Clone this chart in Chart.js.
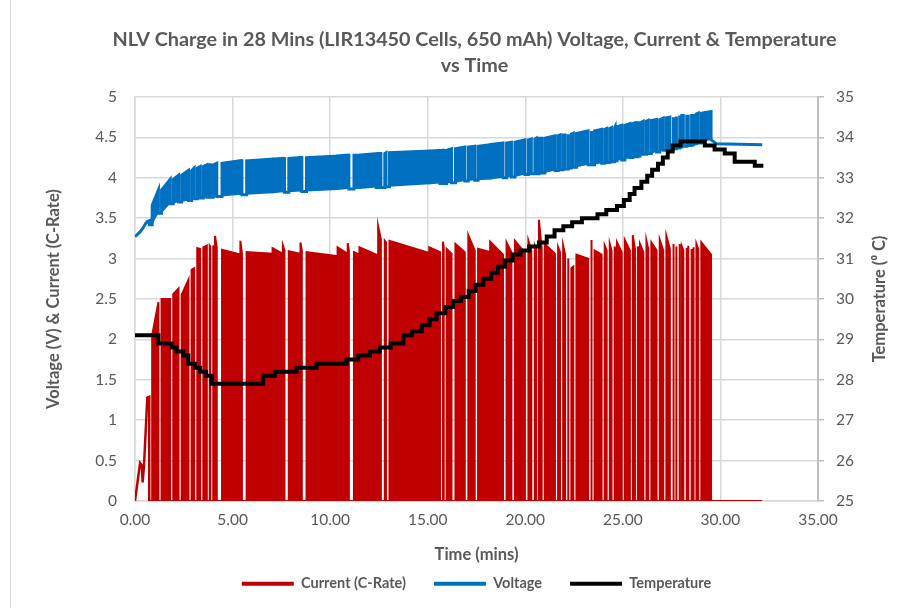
<!DOCTYPE html>
<html lang="en">
<head>
<meta charset="UTF-8">
<title>NLV Charge vs Time</title>
<script src="https://cdn.jsdelivr.net/npm/chart.js"></script>
<style>
  html, body { margin: 0; padding: 0; background: #fff; }
  #box { position: relative; width: 923px; height: 608px; }
  #edge { position: absolute; left: 10px; top: 0; width: 1px; height: 608px; background: #d9d9d9; }
  #myChart { position: absolute; left: 0; top: 0; }
</style>
</head>
<body>
<div id="box">
  <div id="edge"></div>
  <canvas id="myChart" width="923" height="608"></canvas>
</div>
<script>
// start of the charge, before the pulses (time in mins)
const rampT = [0, 0.26, 0.35, 0.39, 0.46, 0.56, 0.63, 0.73, 0.73, 0.88];
const rampI = [0, 0.47, 0.44, 0.23, 0.43, 0.93, 1.28, 1.29, 0, 0];
const rampV = [3.27, 3.33, 3.36, 3.37, 3.40, 3.44, 3.46, 3.47, 3.42, 3.42];

// charge pulses: on / off time, current at start and end, voltage at end, rest voltage after
const onT = [0.88, 1.36, 1.96, 2.39, 2.90, 3.19, 3.50, 3.83, 4.01, 4.10,
  4.46, 5.40, 5.72, 7.05, 7.58, 7.88, 8.48, 8.79, 10.38, 10.90,
  11.22, 11.50, 12.46, 12.80, 13.04, 15.08, 15.78, 15.97, 16.42, 17.08,
  17.58, 18.20, 19.04, 19.47, 20.16, 20.49, 20.70, 21.00, 21.68, 21.94,
  22.19, 22.36, 22.62, 23.38, 23.55, 24.07, 24.33, 24.58, 24.70, 25.10,
  25.51, 25.77, 25.88, 26.21, 26.46, 26.89, 27.23, 27.57, 27.73, 27.90,
  28.02, 28.26, 28.34, 28.51, 28.61, 28.77, 29.02];
const offT = [1.20, 1.80, 2.23, 2.74, 3.03, 3.34, 3.68, 3.86, 4.10, 4.19,
  5.40, 5.48, 7.05, 7.58, 7.66, 8.48, 8.55, 10.38, 10.90, 10.96,
  11.50, 12.36, 12.60, 12.86, 15.08, 15.63, 15.82, 16.22, 16.90, 17.41,
  18.20, 18.86, 19.29, 19.98, 20.31, 20.56, 20.84, 21.52, 21.78, 22.04,
  22.21, 22.46, 23.22, 23.40, 23.91, 24.17, 24.42, 24.60, 24.94, 25.36,
  25.62, 25.79, 26.05, 26.30, 26.73, 27.07, 27.41, 27.61, 27.75, 27.92,
  28.10, 28.28, 28.36, 28.53, 28.63, 28.86, 29.52];
const iPk = [2.05, 2.50, 2.56, 2.55, 2.86, 3.13, 3.14, 3.16, 3.15, 3.28,
  3.11, 3.22, 3.08, 3.13, 3.16, 3.09, 3.20, 3.08, 3.14, 3.19,
  3.08, 3.14, 3.40, 3.22, 3.22, 3.14, 3.21, 3.12, 3.18, 3.29,
  3.12, 3.21, 3.20, 3.22, 3.22, 3.16, 3.48, 3.18, 3.14, 3.16,
  3.00, 2.88, 3.05, 3.23, 3.10, 3.16, 3.18, 3.15, 3.20, 3.23,
  3.29, 3.15, 3.18, 3.22, 3.20, 3.23, 3.28, 3.18, 3.15, 3.18,
  3.15, 3.13, 3.16, 3.12, 3.14, 3.18, 3.20];
const iEnd = [2.46, 2.50, 2.63, 2.74, 2.88, 3.12, 3.16, 3.15, 3.16, 3.14,
  3.05, 3.07, 3.06, 3.06, 3.10, 3.06, 3.10, 3.03, 3.06, 3.10,
  3.05, 3.05, 3.24, 3.20, 3.07, 3.08, 3.15, 3.06, 3.08, 3.10,
  3.08, 3.05, 3.08, 3.07, 3.10, 3.12, 3.12, 3.06, 3.08, 3.05,
  2.98, 2.90, 3.00, 3.20, 3.05, 3.10, 3.10, 3.12, 3.08, 3.10,
  3.12, 3.12, 3.08, 3.12, 3.10, 3.10, 3.12, 3.15, 3.12, 3.15,
  3.10, 3.10, 3.12, 3.10, 3.10, 3.12, 3.05];
const vFirst = 3.66;
const vPk = [3.85, 3.98, 4.03, 4.09, 4.12, 4.14, 4.16, 4.16, 4.17, 4.18,
  4.21, 4.21, 4.23, 4.24, 4.24, 4.25, 4.25, 4.27, 4.28, 4.28,
  4.28, 4.30, 4.30, 4.31, 4.33, 4.34, 4.34, 4.36, 4.38, 4.39,
  4.41, 4.43, 4.44, 4.47, 4.48, 4.49, 4.49, 4.52, 4.53, 4.53,
  4.54, 4.55, 4.58, 4.58, 4.60, 4.61, 4.62, 4.63, 4.65, 4.67,
  4.68, 4.68, 4.70, 4.71, 4.72, 4.74, 4.75, 4.75, 4.76, 4.77,
  4.77, 4.78, 4.78, 4.79, 4.79, 4.80, 4.82];
const vRest = [3.56, 3.68, 3.70, 3.72, 3.74, 3.75, 3.76, 3.76, 3.77, 3.77,
  3.79, 3.79, 3.81, 3.82, 3.82, 3.83, 3.83, 3.85, 3.86, 3.86,
  3.86, 3.88, 3.88, 3.89, 3.92, 3.93, 3.93, 3.94, 3.96, 3.97,
  3.98, 4.00, 4.01, 4.04, 4.05, 4.05, 4.06, 4.09, 4.10, 4.11,
  4.12, 4.13, 4.16, 4.16, 4.18, 4.19, 4.20, 4.21, 4.22, 4.25,
  4.26, 4.27, 4.29, 4.30, 4.32, 4.34, 4.35, 4.36, 4.37, 4.38,
  4.39, 4.40, 4.40, 4.41, 4.42, 4.43, 4.47];

// after the charge stops
const tailT = [29.80, 32.14];
const tailI = [0, 0];
const tailV = [4.42, 4.41];

// temperature steps (value holds from each time to the next)
const tempT = [0, 1.20, 1.88, 2.13, 2.48, 2.73, 3.07, 3.33, 3.64, 3.93,
  6.57, 7.17, 8.28, 9.31, 10.84, 11.44, 12.04, 12.55, 13.10, 13.75,
  14.20, 14.70, 15.10, 15.45, 15.90, 16.30, 16.70, 17.10, 17.45, 17.85,
  18.25, 18.60, 18.95, 19.35, 19.75, 20.20, 20.70, 21.10, 21.50, 21.95,
  22.40, 22.90, 23.70, 24.15, 24.70, 25.05, 25.35, 25.60, 25.95, 26.25,
  26.50, 26.80, 27.05, 27.30, 27.55, 27.95, 29.20, 29.70, 30.22, 30.73,
  31.76, 32.20];
const tempC = [29.1, 28.9, 28.8, 28.7, 28.6, 28.4, 28.3, 28.2, 28.1, 27.9,
  28.1, 28.2, 28.3, 28.4, 28.5, 28.6, 28.7, 28.8, 28.9, 29.1,
  29.2, 29.35, 29.5, 29.65, 29.8, 29.95, 30.05, 30.2, 30.35, 30.5,
  30.65, 30.8, 30.95, 31.1, 31.2, 31.3, 31.4, 31.55, 31.7, 31.8,
  31.9, 32.0, 32.1, 32.2, 32.3, 32.45, 32.6, 32.75, 32.9, 33.05,
  33.2, 33.35, 33.5, 33.65, 33.8, 33.9, 33.8, 33.7, 33.6, 33.4,
  33.3, 33.3];

const red = '#c00000';
const blue = '#0070c0';
const grey = '#595959';
const gridCol = '#d9d9d9';

// build point lists
const curRamp = rampT.map((t, i) => ({x: t, y: rampI[i]}));
const curPulses = [];
const volt = rampT.map((t, i) => ({x: t, y: rampV[i]}));
const voltBase = rampT.map((t, i) => ({x: t, y: rampV[i]}));
let rest = rampV[rampV.length - 1];
onT.forEach((t, k) => {
  const top = k === 0 ? vFirst : vPk[k - 1];
  curPulses.push({x: t, y: 0}, {x: t, y: iPk[k]}, {x: offT[k], y: iEnd[k]}, {x: offT[k], y: 0});
  volt.push({x: t, y: rest}, {x: t, y: top}, {x: offT[k], y: vPk[k]}, {x: offT[k], y: vRest[k]});
  voltBase.push({x: t, y: rest}, {x: offT[k], y: vRest[k]});
  rest = vRest[k];
});
tailT.forEach((t, i) => {
  curPulses.push({x: t, y: tailI[i]});
  volt.push({x: t, y: tailV[i]});
  voltBase.push({x: t, y: tailV[i]});
});
const temp = tempT.map((t, i) => ({x: t, y: tempC[i]}));

// right axis title reads bottom to top like the left one
const rightTitle = {
  id: 'rightTitle',
  afterDraw(chart) {
    const c = chart.ctx;
    const a = chart.chartArea;
    c.save();
    c.translate(880, (a.top + a.bottom) / 2);
    c.rotate(-Math.PI / 2);
    c.font = 'bold 16.5px Lato';
    c.fillStyle = grey;
    c.textAlign = 'center';
    c.textBaseline = 'middle';
    c.fillText('Temperature (\u2070 C)', 0, 0);
    c.restore();
  }
};

const ctx = document.getElementById('myChart');
new Chart(ctx, {
  type: 'line',
  data: {
    datasets: [{
      label: 'Current (C-Rate)',
      data: curPulses,
      borderColor: red,
      backgroundColor: red,
      borderWidth: 2,
      pointBorderWidth: 4,
      fill: 'origin',
      yAxisID: 'y',
      order: 4
    }, {
      label: 'Voltage',
      data: volt,
      borderColor: blue,
      backgroundColor: blue,
      borderWidth: 3,
      pointBorderWidth: 4,
      fill: 4,
      yAxisID: 'y',
      order: 2
    }, {
      label: 'Temperature',
      data: temp,
      borderColor: '#000',
      backgroundColor: '#000',
      borderWidth: 4,
      pointBorderWidth: 4,
      stepped: true,
      fill: false,
      yAxisID: 'y1',
      order: 1
    }, {
      label: 'ramp',
      data: curRamp,
      borderColor: red,
      borderWidth: 2.5,
      fill: false,
      yAxisID: 'y',
      order: 4
    }, {
      label: 'vbase',
      data: voltBase,
      borderColor: 'rgba(0,0,0,0)',
      borderWidth: 1,
      fill: false,
      yAxisID: 'y',
      order: 3
    }]
  },
  options: {
    responsive: false,
    animation: false,
    events: [],
    elements: { point: { radius: 0 }, line: { tension: 0 } },
    layout: { padding: { left: 26, right: 0, top: 27, bottom: 7 } },
    plugins: {
      title: {
        display: true,
        fullSize: true,
        text: ['NLV Charge in 28 Mins (LIR13450 Cells, 650 mAh) Voltage, Current & Temperature', 'vs Time'],
        color: grey,
        font: { family: 'Lato', size: 19.8, weight: 'bold', lineHeight: 1.313 },
        padding: { top: 0, bottom: 18 }
      },
      legend: {
        position: 'bottom',
        fullSize: false,
        labels: {
          usePointStyle: true,
          pointStyle: 'line',
          pointStyleWidth: 52,
          color: grey,
          font: { family: 'Lato', size: 14.5, weight: 'bold' },
          padding: 28,
          filter: item => item.datasetIndex < 3,
          sort: (a, b) => a.datasetIndex - b.datasetIndex
        }
      },
      tooltip: { enabled: false }
    },
    scales: {
      x: {
        type: 'linear',
        min: 0,
        max: 35,
        ticks: { stepSize: 5, callback: v => v.toFixed(2), color: grey, font: { family: 'Lato', size: 15.5 }, padding: 10, maxRotation: 0 },
        grid: { color: gridCol, lineWidth: 1.5, drawTicks: false },
        border: { color: gridCol, width: 1.5 },
        title: {
          display: true,
          text: 'Time (mins)',
          color: grey,
          font: { family: 'Lato', size: 16.5, weight: 'bold' },
          padding: { top: 0, bottom: -16 }
        },
        afterFit(scale) { scale.height = 47.5; }
      },
      y: {
        position: 'left',
        min: 0,
        max: 5,
        ticks: { stepSize: 0.5, callback: v => String(v), color: grey, font: { family: 'Lato', size: 15.5 }, padding: 18 },
        grid: { color: gridCol, lineWidth: 1.5, drawTicks: false },
        border: { color: gridCol, width: 1.5 },
        title: {
          display: true,
          text: 'Voltage (V) & Current (C-Rate)',
          color: grey,
          font: { family: 'Lato', size: 16.5, weight: 'bold' },
          padding: { top: 18, bottom: 0 }
        },
        afterFit(scale) { scale.width = 109; }
      },
      y1: {
        position: 'right',
        min: 25,
        max: 35,
        ticks: { stepSize: 1, color: grey, font: { family: 'Lato', size: 15.5 }, padding: 12 },
        grid: { drawOnChartArea: false, color: '#bfbfbf', lineWidth: 1.5, tickLength: 6 },
        border: { color: '#bfbfbf', width: 2 },
        afterFit(scale) { scale.width = 105; }
      }
    }
  },
  plugins: [rightTitle]
});
</script>
</body>
</html>
